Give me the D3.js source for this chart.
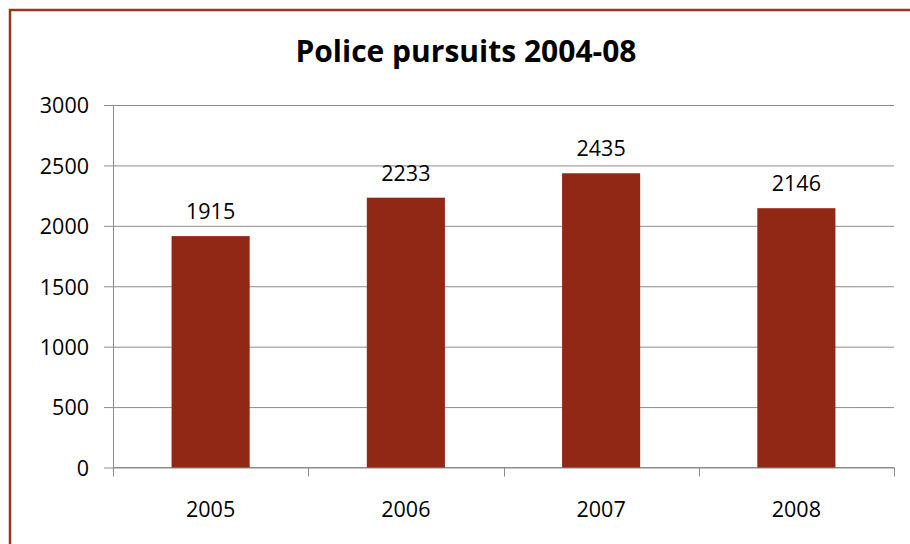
<!DOCTYPE html>
<html>
<head>
<meta charset="utf-8">
<script src="https://cdn.jsdelivr.net/npm/d3@7"></script>
<style>
  body { margin: 0; background: #fff; }
  text { font-family: "Open Sans", "Liberation Sans", sans-serif; fill: #000; }
</style>
</head>
<body>
<svg id="chart"></svg>
<script>
// chart data
const years = ["2005", "2006", "2007", "2008"];
const pursuits = [1915, 2233, 2435, 2146];
const yTicks = [0, 500, 1000, 1500, 2000, 2500, 3000];
const chartTitle = "Police pursuits 2004-08";

const W = 910, H = 544;
const margin = {top: 105, right: 16, bottom: 76.5, left: 113};
var width = W - margin.left - margin.right;
var height = H - margin.top - margin.bottom;

const svg = d3.select("#chart")
  .attr("width", W)
  .attr("height", H);

// outer frame (runs off the right and bottom edge)
svg.append("rect")
  .attr("x", 10).attr("y", 10)
  .attr("width", 930).attr("height", 560)
  .attr("fill", "#fff")
  .attr("stroke", "#a0321c")
  .attr("stroke-width", 2.5);

svg.append("text")
  .attr("x", 466).attr("y", 62)
  .attr("text-anchor", "middle")
  .attr("font-size", "30px")
  .attr("font-weight", "bold")
  .text(chartTitle);

const g = svg.append("g")
  .attr("transform", "translate(" + margin.left + "," + margin.top + ")");

const x = d3.scaleBand()
  .domain(years)
  .range([0, width])
  .paddingInner(0.6)
  .paddingOuter(0.3);

const y = d3.scaleLinear()
  .domain([0, 3000])
  .range([height, 0]);

// y axis with gridlines
const yAxis = g.append("g")
  .call(d3.axisLeft(y).tickValues(yTicks).tickSize(-width).tickPadding(24).tickFormat(d3.format("d")));
yAxis.select(".domain").remove();
yAxis.selectAll(".tick line")
  .attr("x1", -9)
  .attr("stroke", "#8c8c8c");
yAxis.selectAll(".tick text")
  .attr("font-size", "21.5px")
  .attr("dy", "0.36em")
  .style("font-family", "'Open Sans', sans-serif");

// vertical axis line
g.append("line")
  .attr("x1", 0.5).attr("x2", 0.5)
  .attr("y1", 0).attr("y2", height)
  .attr("stroke", "#8c8c8c");

// x axis: ticks at category boundaries
const step = x.step();
const xAxis = g.append("g")
  .attr("transform", "translate(0," + height + ")");
xAxis.append("line")
  .attr("x1", 0).attr("x2", width)
  .attr("stroke", "#8c8c8c");
xAxis.selectAll(".bound")
  .data(d3.range(years.length + 1))
  .join("line")
  .attr("class", "bound")
  .attr("x1", d => Math.round(d * step) + 0.5)
  .attr("x2", d => Math.round(d * step) + 0.5)
  .attr("y1", 0).attr("y2", 9)
  .attr("stroke", "#8c8c8c");
xAxis.selectAll(".lbl")
  .data(years)
  .join("text")
  .attr("class", "lbl")
  .attr("x", d => x(d) + x.bandwidth() / 2)
  .attr("y", 49)
  .attr("text-anchor", "middle")
  .attr("font-size", "21.5px")
  .text(d => d);

// bars
g.selectAll(".bar")
  .data(years)
  .join("rect")
  .attr("class", "bar")
  .attr("x", d => x(d))
  .attr("width", x.bandwidth())
  .attr("y", (d, i) => y(pursuits[i]))
  .attr("height", (d, i) => height - y(pursuits[i]))
  .attr("fill", "#912815");

// value labels
g.selectAll(".val")
  .data(years)
  .join("text")
  .attr("class", "val")
  .attr("x", d => x(d) + x.bandwidth() / 2)
  .attr("y", (d, i) => y(pursuits[i]) - 17)
  .attr("text-anchor", "middle")
  .attr("font-size", "21.5px")
  .text((d, i) => pursuits[i]);
</script>
</body>
</html>
